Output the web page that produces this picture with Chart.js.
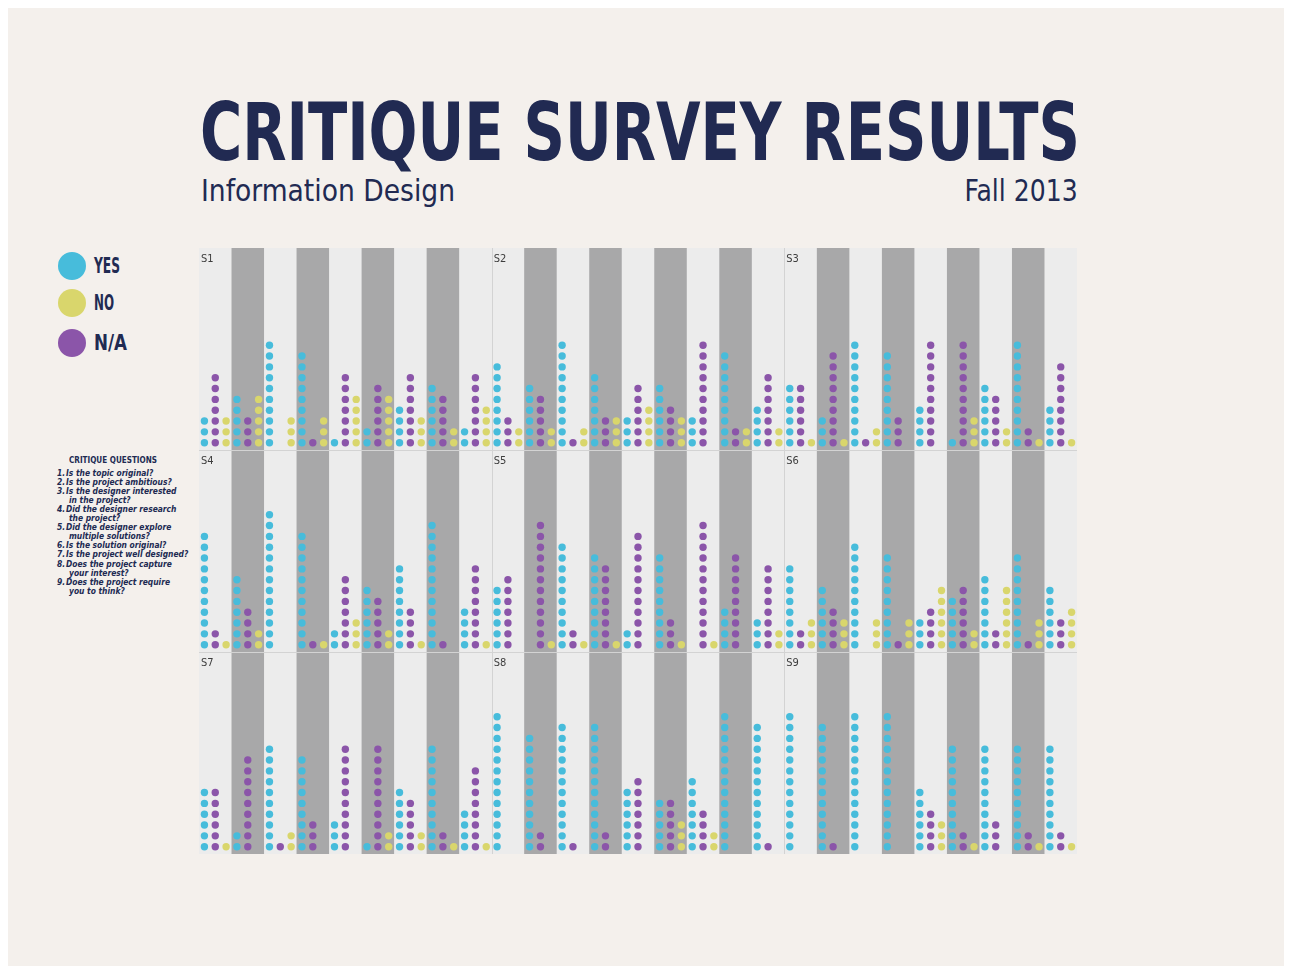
<!DOCTYPE html>
<html>
<head>
<meta charset="utf-8">
<script src="https://cdn.jsdelivr.net/npm/chart.js@4.4.1/dist/chart.umd.min.js"></script>
<style>
  html, body { margin: 0; padding: 0; background: #ffffff; }
  body { width: 1290px; height: 970px; position: relative; overflow: hidden; }
  #paper { position: absolute; left: 8px; top: 8px; width: 1276px; height: 958px; background: #f4f0ec; }
  .txt { position: absolute; white-space: nowrap; line-height: 1; color: #212a52;
         font-family: "Liberation Sans Narrow", "DejaVu Sans Condensed", Roboto, sans-serif; }
  #title { left: 200px; top: 93px; font-size: 80px; font-weight: bold; }
  #sub { left: 201px; top: 175px; font-size: 31px; }
  #fall { right: 212px; top: 175px; font-size: 31px; }
  .dot { position: absolute; width: 28px; height: 28px; border-radius: 50%; }
  .leg { font-size: 21px; font-weight: bold; }
  #qhead { left: 69px; top: 456px; font-size: 8.5px; font-weight: bold; }
  .q { font-size: 8.4px; font-weight: bold; font-style: italic; }
  #chart { position: absolute; left: 199px; top: 248px; }
</style>
</head>
<body>
<div id="paper"></div>
<div class="txt" id="title">CRITIQUE SURVEY RESULTS</div>
<div class="txt" id="sub">Information Design</div>
<div class="txt" id="fall">Fall 2013</div>
<div id="legend"></div>
<div class="txt" id="qhead">CRITIQUE QUESTIONS</div>
<div id="qlist"></div>
<canvas id="chart" width="878" height="606"></canvas>
<script>
const surveys = ['S1', 'S2', 'S3', 'S4', 'S5', 'S6', 'S7', 'S8', 'S9'];
const answers = ['YES', 'NO', 'N/A'];
const questions = [
  ['1.', 'Is the topic original?'],
  ['2.', 'Is the project ambitious?'],
  ['3.', 'Is the designer interested', 'in the project?'],
  ['4.', 'Did the designer research', 'the project?'],
  ['5.', 'Did the designer explore', 'multiple solutions?'],
  ['6.', 'Is the solution original?'],
  ['7.', 'Is the project well designed?'],
  ['8.', 'Does the project capture', 'your interest?'],
  ['9.', 'Does the project require', 'you to think?']
];

// answers per survey (rows) and question 1-9 (columns)
const yesCounts = [
  [3, 5, 10, 9, 1, 2, 4, 6, 2],
  [8, 6, 10, 7, 3, 6, 3, 9, 4],
  [6, 3, 10, 9, 4, 1, 6, 10, 4],
  [11, 7, 13, 11, 2, 6, 8, 12, 4],
  [6, 0, 10, 9, 2, 9, 0, 4, 3],
  [8, 6, 10, 9, 3, 5, 7, 9, 6],
  [6, 2, 10, 9, 3, 1, 6, 10, 4],
  [13, 11, 12, 12, 6, 5, 7, 13, 12],
  [13, 12, 13, 13, 6, 10, 10, 10, 10]
];
const naCounts = [
  [7, 3, 0, 1, 7, 6, 7, 5, 7],
  [3, 5, 1, 3, 6, 4, 10, 2, 7],
  [6, 9, 1, 3, 10, 10, 5, 2, 8],
  [2, 4, 0, 1, 7, 5, 4, 1, 8],
  [7, 12, 2, 8, 11, 3, 12, 9, 8],
  [2, 4, 0, 1, 4, 6, 2, 1, 3],
  [6, 9, 1, 3, 10, 10, 5, 2, 8],
  [0, 2, 1, 2, 7, 5, 4, 0, 1],
  [0, 1, 0, 0, 4, 2, 3, 2, 2]
];
const noCounts = [
  [3, 5, 3, 3, 5, 5, 3, 2, 4],
  [2, 2, 2, 3, 4, 3, 0, 2, 2],
  [1, 1, 2, 0, 0, 3, 2, 1, 1],
  [1, 2, 0, 1, 3, 2, 1, 0, 1],
  [0, 1, 1, 1, 0, 1, 1, 0, 2],
  [3, 3, 3, 3, 6, 2, 6, 3, 4],
  [1, 0, 2, 0, 0, 2, 2, 1, 1],
  [0, 0, 0, 0, 0, 3, 2, 0, 0],
  [0, 0, 0, 0, 3, 1, 0, 1, 1]
];

const colors = { 'YES': '#47bcdb', 'NO': '#d9d66c', 'N/A': '#8b55a9' };
const LIGHT = '#ececec', DARK = '#a8a8a9';

// y scale is in "dot steps": one unit = spacing between two stacked dots
const DOT = 10.83;
const YMAX = 606 / DOT;
const ROW = YMAX / 3;
const BASE = 7.3 / DOT;

function fitEl(el, w, origin) {
  const nat = el.getBoundingClientRect().width;
  el.style.transformOrigin = origin;
  el.style.transform = 'scaleX(' + (w / nat) + ')';
}

// legend + questions (html text)
const legend = document.getElementById('legend');
answers.forEach((a, i) => {
  const top = [252, 289, 329][i];
  const d = document.createElement('div');
  d.className = 'dot';
  d.style.left = '58px'; d.style.top = top + 'px'; d.style.background = colors[a];
  legend.appendChild(d);
  const t = document.createElement('div');
  t.className = 'txt leg';
  t.textContent = a;
  t.style.left = '94px'; t.style.top = (top + 4) + 'px';
  legend.appendChild(t);
  fitEl(t, [26, 20, 33][i], 'left top');
});

const qlist = document.getElementById('qlist');
let line = 0;
questions.forEach(q => {
  for (let k = 1; k < q.length; k++) {
    const top = 469 + line * 9.05;
    if (k === 1) {
      const n = document.createElement('div');
      n.className = 'txt q';
      n.textContent = q[0];
      n.style.left = '57px'; n.style.top = top + 'px';
      qlist.appendChild(n);
    }
    const t = document.createElement('div');
    t.className = 'txt q';
    t.textContent = q[k];
    t.style.left = (k === 1 ? 66 : 69) + 'px'; t.style.top = top + 'px';
    qlist.appendChild(t);
    line++;
  }
});

fitEl(document.getElementById('title'), 880, 'left top');
fitEl(document.getElementById('sub'), 254, 'left top');
fitEl(document.getElementById('fall'), 113, 'right top');
fitEl(document.getElementById('qhead'), 88, 'left top');

// one point per respondent, stacked in its answer column
function buildPoints(counts, offset) {
  const pts = [];
  counts.forEach((row, s) => {
    const col = s % 3, r = Math.floor(s / 3);
    row.forEach((n, q) => {
      for (let i = 0; i < n; i++) {
        pts.push({ x: col * 9 + q + 0.5 + offset / 3, y: (2 - r) * ROW + BASE + i });
      }
    });
  });
  return pts;
}

const stripes = {
  id: 'stripes',
  beforeDatasetsDraw(chart) {
    const { ctx, chartArea: a, scales: { x, y } } = chart;
    ctx.save();
    ctx.fillStyle = LIGHT;
    ctx.fillRect(a.left, a.top, a.width, a.height);
    ctx.fillStyle = DARK;
    for (let c = 0; c < 27; c++) {
      if ((c % 9) % 2 === 1) {
        const x0 = x.getPixelForValue(c), x1 = x.getPixelForValue(c + 1);
        ctx.fillRect(x0, a.top, x1 - x0, a.height);
      }
    }
    ctx.strokeStyle = '#d3d3d3';
    ctx.lineWidth = 1;
    for (let r = 1; r < 3; r++) {
      const yy = Math.round(y.getPixelForValue(r * ROW)) + 0.5;
      ctx.beginPath(); ctx.moveTo(a.left, yy); ctx.lineTo(a.right, yy); ctx.stroke();
    }
    for (let p = 1; p < 3; p++) {
      const xx = Math.round(x.getPixelForValue(p * 9)) + 0.5;
      ctx.beginPath(); ctx.moveTo(xx, a.top); ctx.lineTo(xx, a.bottom); ctx.stroke();
    }
    ctx.fillStyle = '#3d3d3d';
    ctx.font = '11px "Liberation Sans Narrow", "DejaVu Sans Condensed", sans-serif';
    ctx.textBaseline = 'top';
    surveys.forEach((s, i) => {
      const col = i % 3, r = Math.floor(i / 3);
      ctx.fillText(s, x.getPixelForValue(col * 9) + 2, y.getPixelForValue(YMAX - r * ROW) + 6);
    });
    ctx.restore();
  }
};

new Chart(document.getElementById('chart'), {
  type: 'scatter',
  data: {
    datasets: [
      { label: 'YES', data: buildPoints(yesCounts, -1), backgroundColor: colors['YES'] },
      { label: 'N/A', data: buildPoints(naCounts, 0), backgroundColor: colors['N/A'] },
      { label: 'NO', data: buildPoints(noCounts, 1), backgroundColor: colors['NO'] }
    ].map(d => Object.assign(d, { pointRadius: 3.7, pointHoverRadius: 3.7, borderWidth: 0, clip: false }))
  },
  options: {
    responsive: false,
    animation: false,
    layout: { padding: 0, autoPadding: false },
    plugins: { legend: { display: false }, tooltip: { enabled: false } },
    scales: {
      x: { type: 'linear', min: 0, max: 27, display: false },
      y: { type: 'linear', min: 0, max: YMAX, display: false }
    }
  },
  plugins: [stripes]
});
</script>
</body>
</html>
